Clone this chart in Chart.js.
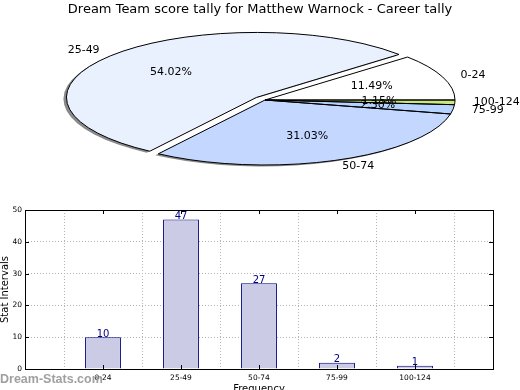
<!DOCTYPE html>
<html>
<head>
<meta charset="utf-8">
<script src="https://cdn.jsdelivr.net/npm/chart.js@4"></script>
<style>
  body { margin: 0; background: #fff; }
  #wrap { position: relative; width: 520px; height: 390px; overflow: hidden; }
  canvas { position: absolute; left: 0; }
  #pieChart { top: 0; }
  #barChart { top: 200px; }
  #mark { position: absolute; left: 0; top: 372px; font: bold 12.5px "Liberation Sans", sans-serif; color: #a0a0a0; }
</style>
</head>
<body>
<div id="wrap">
  <canvas id="pieChart" width="520" height="200"></canvas>
  <canvas id="barChart" width="520" height="190"></canvas>
  <div id="mark">Dream-Stats.com</div>
</div>
<script>
const categories = ['0-24', '25-49', '50-74', '75-99', '100-124'];
const counts = [10, 47, 27, 2, 1];
const yTicks = [0, 10, 20, 30, 40, 50];
const chartTitle = 'Dream Team score tally for Matthew Warnock - Career tally';

const sliceColors = ['#ffffff', '#e9f1ff', '#c3d7ff', '#b6d3ff', '#c9e882'];
const explode = [0, 0.06, 0, 0, 0];
const squash = 65 / 190;
const total = counts.reduce((a, b) => a + b, 0);

// chart.js goes clockwise, the original goes counter-clockwise from east
const pieLabels = categories.slice().reverse();
const pieValues = counts.slice().reverse();
const pieColors = sliceColors.slice().reverse();
const pieExplode = explode.slice().reverse();

const squashedPie = {
  id: 'squashedPie',
  beforeDatasetsDraw(chart) {
    const ctx = chart.ctx;
    const arcs = chart.getDatasetMeta(0).data;

    const place = (arc, i, dx, dy) => {
      const mid = (arc.startAngle + arc.endAngle) / 2;
      const e = pieExplode[i] * arc.outerRadius;
      ctx.translate(arc.x + dx, arc.y + dy);
      ctx.scale(1, squash);
      ctx.translate(Math.cos(mid) * e - arc.x, Math.sin(mid) * e - arc.y);
    };
    const wedge = (arc) => {
      ctx.moveTo(arc.x, arc.y);
      ctx.arc(arc.x, arc.y, arc.outerRadius, arc.startAngle, arc.endAngle);
      ctx.closePath();
    };

    // shadow
    ctx.beginPath();
    arcs.forEach((arc, i) => {
      ctx.save();
      place(arc, i, -3, 1.5);
      wedge(arc);
      ctx.restore();
    });
    ctx.fillStyle = 'rgba(40,40,40,0.55)';
    ctx.fill();

    // fills
    arcs.forEach((arc, i) => {
      ctx.save();
      place(arc, i, 0, 0);
      arc.draw(ctx);
      ctx.restore();
    });

    // edges, stroked without the squash so they stay 1px
    arcs.forEach((arc, i) => {
      ctx.save();
      ctx.beginPath();
      place(arc, i, 0, 0);
      wedge(arc);
      ctx.restore();
      ctx.lineWidth = 1;
      ctx.strokeStyle = '#000';
      ctx.stroke();
    });

    // labels
    ctx.save();
    ctx.font = '11px "DejaVu Sans"';
    ctx.fillStyle = '#000';
    ctx.textBaseline = 'middle';
    arcs.forEach((arc, i) => {
      const mid = (arc.startAngle + arc.endAngle) / 2;
      const r = arc.outerRadius;
      const e = pieExplode[i] * r;
      const c = Math.cos(mid), s = Math.sin(mid);
      ctx.textAlign = c > 0 ? 'left' : 'right';
      ctx.fillText(pieLabels[i], arc.x + c * (e + 1.1 * r), arc.y + s * (e + 1.1 * r) * squash);
      ctx.textAlign = 'center';
      const pct = (pieValues[i] / total * 100).toFixed(2) + '%';
      ctx.fillText(pct, arc.x + c * (e + 0.6 * r), arc.y + s * (e + 0.6 * r) * squash);
    });

    // figure title, centred on the whole picture rather than the pie
    ctx.font = '13px "DejaVu Sans"';
    ctx.fillText(chartTitle, chart.width / 2, 10);
    ctx.restore();
    return false;
  }
};

new Chart(document.getElementById('pieChart'), {
  type: 'pie',
  data: {
    labels: pieLabels,
    datasets: [{
      data: pieValues,
      backgroundColor: pieColors,
      borderWidth: 0,
      clip: false
    }]
  },
  options: {
    responsive: false,
    animation: false,
    rotation: 90,
    radius: 190,
    layout: { padding: { left: 10, right: 0, top: 17.6, bottom: 17.6 } },
    plugins: {
      legend: { display: false },
      tooltip: { enabled: false }
    }
  },
  plugins: [squashedPie]
});

const frame = {
  id: 'frame',
  afterDraw(chart) {
    const ctx = chart.ctx;
    const a = chart.chartArea;
    const x = chart.scales.x, y = chart.scales.y;
    ctx.save();
    ctx.strokeStyle = '#000';
    ctx.lineWidth = 1;
    ctx.beginPath();
    yTicks.slice(1, -1).forEach(v => {
      const py = Math.round(y.getPixelForValue(v)) + 0.5;
      ctx.moveTo(a.left, py); ctx.lineTo(a.left + 4, py);
      ctx.moveTo(a.right, py); ctx.lineTo(a.right - 4, py);
    });
    categories.forEach((c, i) => {
      const px = Math.round(x.getPixelForValue(i + 1)) + 0.5;
      ctx.moveTo(px, a.top); ctx.lineTo(px, a.top + 4);
      ctx.moveTo(px, a.bottom); ctx.lineTo(px, a.bottom - 4);
    });
    ctx.stroke();
    ctx.strokeRect(Math.round(a.left) + 0.5, Math.round(a.top) + 0.5,
      Math.round(a.right - a.left), Math.round(a.bottom - a.top));
    ctx.restore();
  },
  afterDatasetsDraw(chart) {
    const ctx = chart.ctx;
    const bars = chart.getDatasetMeta(0).data;
    const vals = chart.data.datasets[0].data;
    ctx.save();
    ctx.font = '10px "DejaVu Sans"';
    ctx.fillStyle = '#000080';
    ctx.textAlign = 'center';
    ctx.textBaseline = 'bottom';
    bars.forEach((b, i) => {
      if (vals[i] == null) return;
      ctx.fillText(String(vals[i]), b.x, b.y + 2);
    });
    ctx.restore();
  }
};

const tickFont = { family: 'DejaVu Sans', size: 7.5 };

new Chart(document.getElementById('barChart'), {
  type: 'bar',
  data: {
    labels: ['', ...categories, ''],
    datasets: [{
      data: [null, ...counts, null],
      backgroundColor: '#cbcbe6',
      borderColor: '#000080',
      borderWidth: 1,
      barPercentage: 0.46,
      categoryPercentage: 1
    }]
  },
  options: {
    responsive: false,
    animation: false,
    layout: { padding: { left: 0, right: 27, top: 10, bottom: 0 } },
    plugins: { legend: { display: false }, tooltip: { enabled: false } },
    scales: {
      x: {
        offset: false,
        z: 1,
        grid: { color: '#b4b4b4', drawTicks: false },
        border: { display: false, dash: [1, 2] },
        ticks: { color: '#000', font: tickFont, padding: 5, maxRotation: 0, autoSkip: false },
        title: {
          display: true, text: 'Frequency', color: '#000',
          font: { family: 'DejaVu Sans', size: 10 }, padding: { top: 0, bottom: -5 }
        },
        afterFit(s) { s.height = 21; }
      },
      y: {
        min: yTicks[0],
        max: yTicks[yTicks.length - 1],
        afterBuildTicks(s) { s.ticks = yTicks.map(v => ({ value: v })); },
        grid: { color: '#b4b4b4', drawTicks: false },
        border: { display: false, dash: [1, 2] },
        ticks: { color: '#000', font: tickFont, padding: 3 },
        title: {
          display: true, text: 'Stat Intervals', color: '#000',
          font: { family: 'DejaVu Sans', size: 10 }, padding: { top: -1, bottom: 0 }
        },
        afterFit(s) { s.width = 25; }
      }
    }
  },
  plugins: [frame]
});
</script>
</body>
</html>
